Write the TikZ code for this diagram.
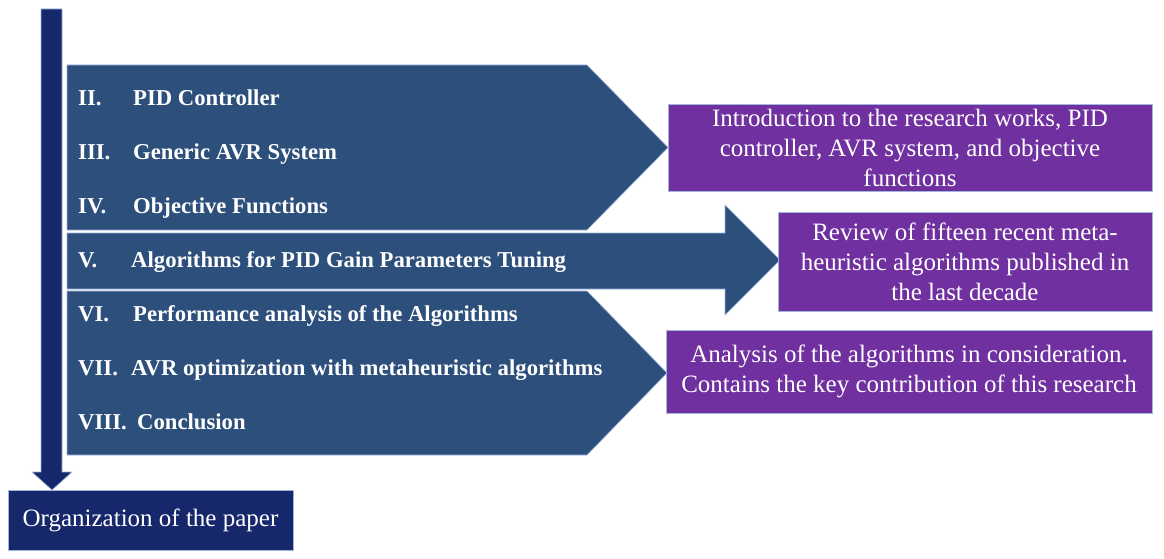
\documentclass[tikz,border=0pt]{standalone}
\usepackage{fontspec}
\setmainfont{Liberation Serif}
\definecolor{shapeblue}{HTML}{2C4F7C}
\definecolor{navy}{HTML}{17276B}
\definecolor{boxpurple}{HTML}{7030A0}
\definecolor{edgeblue}{HTML}{9FB6DD}
\begin{document}
\begin{tikzpicture}[x=1pt,y=-1pt,
  blueshape/.style={fill=shapeblue,draw=edgeblue,line width=0.6pt},
  navyshape/.style={fill=navy,draw=edgeblue,line width=0.6pt},
  purplebox/.style={rectangle,fill=boxpurple,draw=edgeblue,line width=0.6pt,text=white,align=center,inner sep=0pt,font=\fontsize{25}{30}\selectfont},
  itemnum/.style={anchor=base west,inner sep=0pt,text=white,font=\fontsize{22.7}{26}\selectfont\bfseries},
  itemlabel/.style={anchor=base west,inner sep=0pt,text=white,font=\fontsize{22.7}{26}\selectfont\bfseries}]
\useasboundingbox (0,0) rectangle (1164,559);
% vertical arrow
\coordinate (vtip) at (52,490);
\path[navyshape] (41,9) -- (62,9) -- (62,472) -- (72,472) -- (vtip) -- (32,472) -- (41,472) -- cycle;
% organization box
\node[rectangle,fill=navy,draw=edgeblue,line width=0.6pt,text=white,minimum width=285pt,minimum height=60pt,inner sep=0pt,font=\fontsize{25}{29}\selectfont] (org) at (150.5,520) {Organization of the paper};
% pentagons and arrow
\path[blueshape] (67,65) -- (587,65) -- (668,147.5) -- (587,230) -- (67,230) -- cycle;
\path[blueshape] (67,233) -- (725,233) -- (725,205) -- (780,260) -- (725,315) -- (725,289) -- (67,289) -- cycle;
\path[blueshape] (67,291) -- (587,291) -- (667,373) -- (587,455) -- (67,455) -- cycle;
% items
\node[itemnum] (n2) at (78,105.5) {II.};
\node[itemlabel] (l2) at (133,105.5) {PID Controller};
\node[itemnum] (n3) at (78,159.5) {III.};
\node[itemlabel] (l3) at (133,159.5) {Generic AVR System};
\node[itemnum] (n4) at (78,213.5) {IV.};
\node[itemlabel] (l4) at (133,213.5) {Objective Functions};
\node[itemnum] (n5) at (78,267.5) {V.};
\node[itemlabel] (l5) at (131,267.5) {Algorithms for PID Gain Parameters Tuning};
\node[itemnum] (n6) at (78,321.5) {VI.};
\node[itemlabel] (l6) at (133,321.5) {Performance analysis of the Algorithms};
\node[itemnum] (n7) at (78,375.5) {VII.};
\node[itemlabel] (l7) at (131,375.5) {AVR optimization with metaheuristic algorithms};
\node[itemnum] (n8) at (78,429.5) {VIII.};
\node[itemlabel] (l8) at (137,429.5) {Conclusion};
% purple boxes
\node[purplebox,minimum width=484pt,minimum height=87pt] (b1) at (910,147.5) {Introduction to the research works, PID\\controller, AVR system, and objective\\functions};
\node[purplebox,minimum width=374pt,minimum height=99pt] (b2) at (965,261.5) {Review of fifteen recent meta-\\heuristic algorithms published in\\the last decade};
\node[purplebox,minimum width=486pt,minimum height=83pt] (b3) at (909,371.5) {Analysis of the algorithms in consideration.\\Contains the key contribution of this research};
\end{tikzpicture}
\end{document}
